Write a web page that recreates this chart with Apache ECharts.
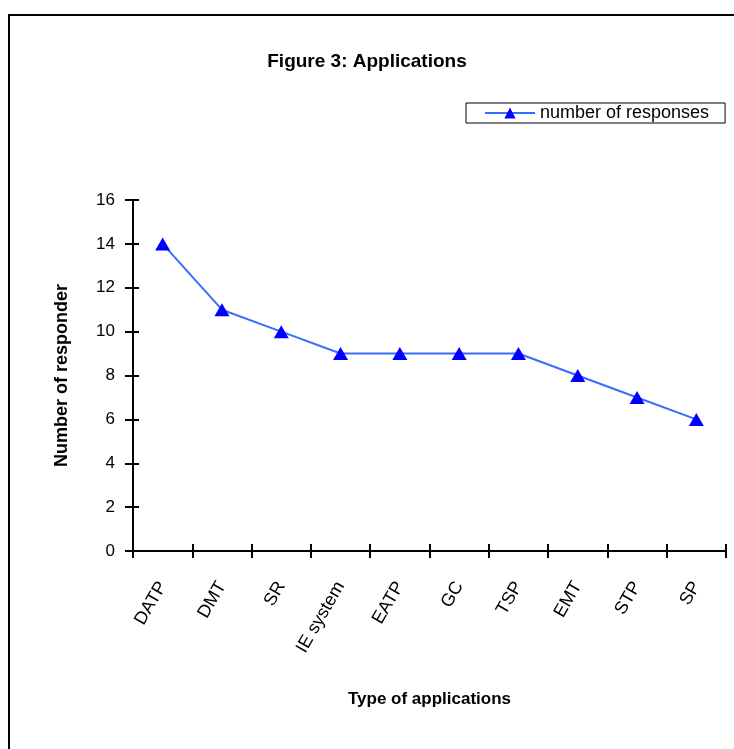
<!DOCTYPE html>
<html>
<head>
<meta charset="utf-8">
<script src="https://cdn.jsdelivr.net/npm/echarts@6/dist/echarts.min.js"></script>
<style>html,body{margin:0;padding:0;background:#fff}#c{width:734px;height:749px}</style>
</head>
<body>
<div id="c"></div>
<script>
const categories = ['DATP', 'DMT', 'SR', 'IE system', 'EATP', 'GC', 'TSP', 'EMT', 'STP', 'SP'];
const responses = [14, 11, 10, 9, 9, 9, 9, 8, 7, 6];
const yTicks = { min: 0, max: 16, interval: 2 };

const FONT = 'Liberation Sans, Arial, sans-serif';
const chart = echarts.init(document.getElementById('c'), null, { renderer: 'canvas' });
chart.setOption({
  animation: false,
  backgroundColor: '#fff',
  textStyle: { fontFamily: FONT, color: '#000' },
  title: {
    text: 'Figure 3: Applications',
    left: 'center', top: 47,
    textStyle: { fontFamily: FONT, fontSize: 19, fontWeight: 'bold', color: '#000' }
  },
  legend: {
    left: 466, top: 103,
    padding: [1, 16, 1, 18],
    borderColor: '#000', borderWidth: 1, borderRadius: 0,
    itemWidth: 50, itemHeight: 14,
    textStyle: { fontFamily: FONT, fontSize: 18, color: '#000' },
    data: ['number of responses']
  },
  graphic: [{
    type: 'rect', silent: true,
    shape: { x: 9, y: 15, width: 900, height: 900 },
    style: { fill: 'none', stroke: '#000', lineWidth: 2 }
  }],
  grid: { left: 133, right: 8, top: 200, bottom: 198 },
  xAxis: [{
    type: 'category', data: categories, position: 'bottom', boundaryGap: true,
    name: 'Type of applications', nameLocation: 'middle', nameGap: 140,
    nameTextStyle: { fontFamily: FONT, fontSize: 17, fontWeight: 'bold', color: '#000' },
    axisLine: { show: true, lineStyle: { color: '#000', width: 2 } },
    axisTick: { show: true, interval: 0, alignWithLabel: false, length: 7, lineStyle: { color: '#000', width: 2 } },
    axisLabel: { show: true, interval: 0, rotate: 60, margin: 32, fontFamily: FONT, fontSize: 18, color: '#000' }
  }, {
    type: 'category', data: categories, position: 'bottom', boundaryGap: true, offset: -7,
    axisLine: { show: false },
    axisTick: { show: true, interval: 0, length: 7, lineStyle: { color: '#000', width: 2 } },
    axisLabel: { show: false }
  }],
  yAxis: [{
    type: 'value', min: yTicks.min, max: yTicks.max, interval: yTicks.interval, position: 'left',
    name: 'Number of responder', nameLocation: 'middle', nameGap: 62,
    nameTextStyle: { fontFamily: FONT, fontSize: 18, fontWeight: 'bold', color: '#000' },
    splitLine: { show: false },
    axisLine: { show: true, lineStyle: { color: '#000', width: 2 } },
    axisTick: { show: true, length: 8, lineStyle: { color: '#000', width: 2 } },
    axisLabel: { margin: 18, fontFamily: FONT, fontSize: 17, color: '#000' }
  }, {
    type: 'value', min: yTicks.min, max: yTicks.max, interval: yTicks.interval, position: 'left', offset: -6,
    splitLine: { show: false },
    axisLine: { show: false },
    axisTick: { show: true, length: 6, lineStyle: { color: '#000', width: 2 } },
    axisLabel: { show: false }
  }],
  series: [{
    name: 'number of responses',
    type: 'line',
    data: responses,
    xAxisIndex: 0, yAxisIndex: 0,
    symbol: 'triangle', symbolSize: [15, 13],
    lineStyle: { color: '#3a6cff', width: 2 },
    itemStyle: { color: '#0000ff', borderWidth: 0 }
  }]
});
</script>
</body>
</html>
